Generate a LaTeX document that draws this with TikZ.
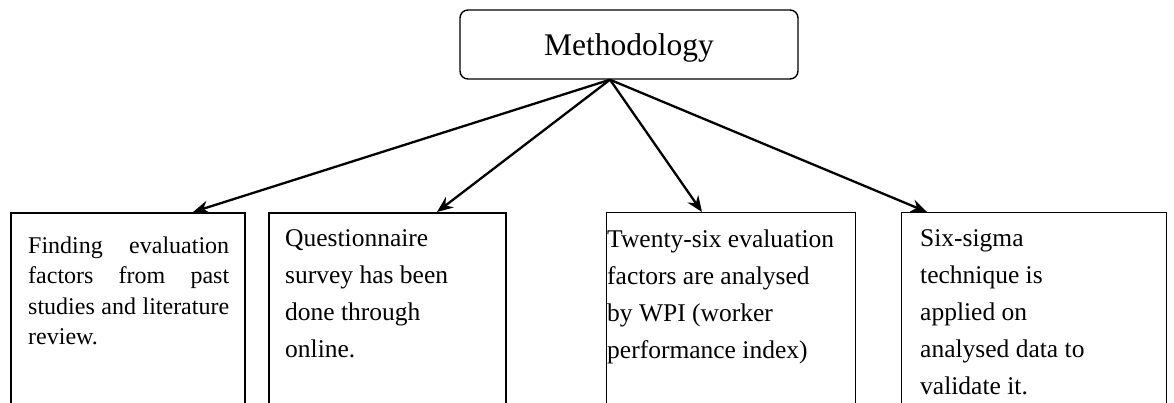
\documentclass[tikz,border=0pt]{standalone}
\usepackage{fontspec}
\setmainfont{Liberation Serif}
\usetikzlibrary{arrows.meta}
\newcommand{\nohyph}{\hyphenpenalty10000\exhyphenpenalty10000\relax}
\begin{document}
\begin{tikzpicture}[x=1pt,y=-1pt,
  boxstyle/.style={draw,line width=1.4pt,inner sep=0pt,anchor=north west},
  txt/.style={anchor=north west,inner sep=0pt,font=\fontsize{25.5}{37}\selectfont,align=left},
  arr/.style={line width=2.3pt,-{Stealth[length=16pt,width=13pt]}}]
\clip (0,0) rectangle (1174,403);
\node[draw,rounded corners=8pt,line width=1.4pt,minimum width=338pt,minimum height=69pt,inner sep=0pt,
      font=\fontsize{31.5}{36}\selectfont,text depth=0pt] (m) at (629,44.5) {Methodology};
\node[boxstyle,line width=2pt,minimum width=234pt,minimum height=250pt] (b1) at (10,212) {};
\node[boxstyle,line width=2pt,minimum width=237pt,minimum height=250pt] (b2) at (268,212) {};
\node[boxstyle,minimum width=249pt,minimum height=250pt] (b3) at (606,212) {};
\node[boxstyle,minimum width=265pt,minimum height=250pt] (b4) at (901,212) {};
\draw[arr] ([xshift=-19pt]m.south) -- ([xshift=183pt]b1.north west);
\draw[arr] ([xshift=-19pt]m.south) -- ([xshift=169pt]b2.north west);
\draw[arr] ([xshift=-19pt]m.south) -- ([xshift=96pt]b3.north west);
\draw[arr] ([xshift=-19pt]m.south) -- ([xshift=26pt]b4.north west);
\node[txt,text width=201pt,align=justify,font={\fontsize{24}{30.5}\selectfont\nohyph}] (t1) at (28,236.6)
  {Finding evaluation factors from past studies and literature review.};
\node[txt] (t2) at (285,229.6) {Questionnaire\\survey has been\\done through\\online.};
\node[txt] (t3) at (607,229.6) {Twenty-six evaluation\\factors are analysed\\by WPI (worker\\performance index)};
\node[txt] (t4) at (920,229.6) {Six-sigma\\technique is\\applied on\\analysed data to\\validate it.};
\end{tikzpicture}
\end{document}
